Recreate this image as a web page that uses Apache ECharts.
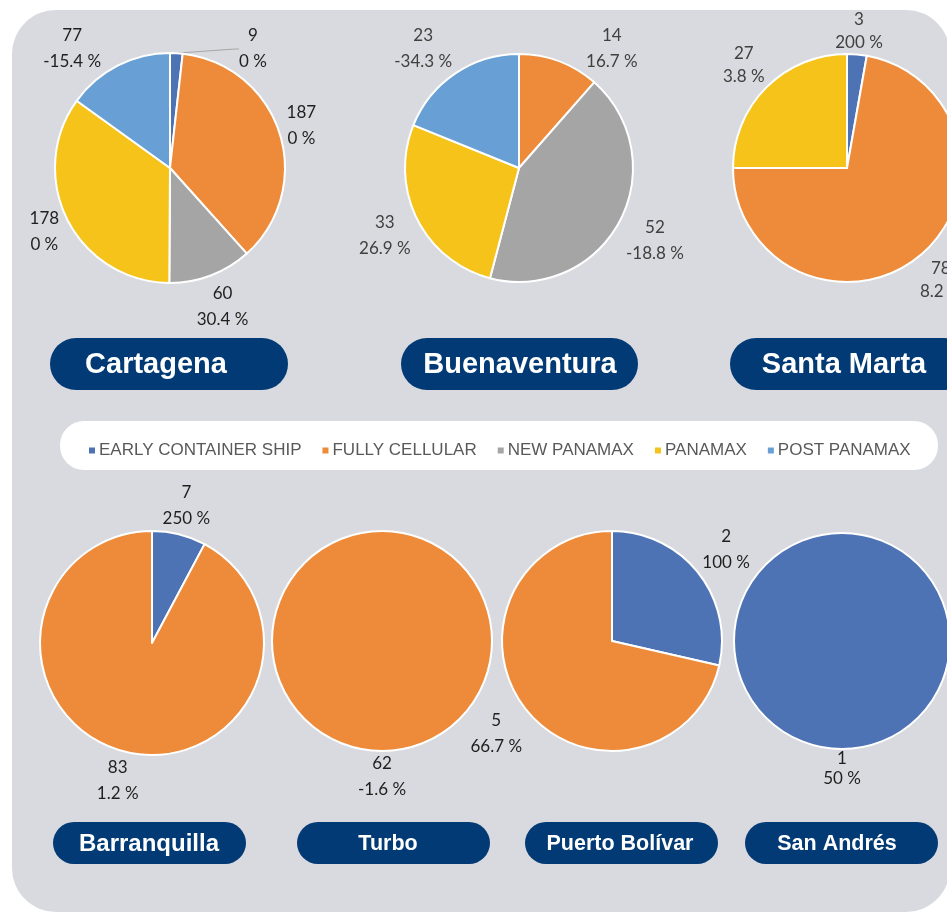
<!DOCTYPE html>
<html>
<head>
<meta charset="utf-8">
<script src="https://cdn.jsdelivr.net/npm/echarts@6/dist/echarts.min.js"></script>
<style>
  html, body { margin: 0; padding: 0; background: #fff; }
  #chart { width: 947px; height: 913px; }
</style>
</head>
<body>
<div id="chart"></div>
<script>
// vessel types (legend order)
const categories = ['EARLY CONTAINER SHIP', 'FULLY CELLULAR', 'NEW PANAMAX', 'PANAMAX', 'POST PANAMAX'];
const colors = ['#4e73b5', '#ed8b3a', '#a6a5a6', '#f6c31b', '#689fd4'];

// calls per port, same order as categories (null = no calls)
const cartagenaValues = [9, 187, 60, 178, 77];
const cartagenaChange = ['0 %', '0 %', '30.4 %', '0 %', '-15.4 %'];
const buenaventuraValues = [null, 14, 52, 33, 23];
const buenaventuraChange = [null, '16.7 %', '-18.8 %', '26.9 %', '-34.3 %'];
const santaMartaValues = [3, 78, null, 27, null];
const santaMartaChange = ['200 %', '8.2 %', null, '3.8 %', null];
const barranquillaValues = [7, 83, null, null, null];
const barranquillaChange = ['250 %', '1.2 %', null, null, null];
const turboValues = [null, 62, null, null, null];
const turboChange = [null, '-1.6 %', null, null, null];
const puertoBolivarValues = [2, 5, null, null, null];
const puertoBolivarChange = ['100 %', '66.7 %', null, null, null];
const sanAndresValues = [1, null, null, null, null];
const sanAndresChange = ['50 %', null, null, null, null];

const ports = [
  { name: 'Cartagena', values: cartagenaValues, change: cartagenaChange },
  { name: 'Buenaventura', values: buenaventuraValues, change: buenaventuraChange },
  { name: 'Santa Marta', values: santaMartaValues, change: santaMartaChange },
  { name: 'Barranquilla', values: barranquillaValues, change: barranquillaChange },
  { name: 'Turbo', values: turboValues, change: turboChange },
  { name: 'Puerto Bolívar', values: puertoBolivarValues, change: puertoBolivarChange },
  { name: 'San Andrés', values: sanAndresValues, change: sanAndresChange }
];

// layout: pie centre / radius, name pill box, pill text centre x and size,
// label colour, label line height, highest allowed label top
const layout = [
  { c: [170, 168], r: 115, pill: [50, 338, 238, 52], tx: 156, fs: 29, lc: '#1f1f1f', lh: 26, top: 26 },
  { c: [519, 168], r: 114, pill: [401, 338, 237, 52], tx: 520, fs: 29, lc: '#404040', lh: 26, top: 26 },
  { c: [847, 168], r: 114, pill: [730, 338, 240, 52], tx: 844, fs: 29, lc: '#404040', lh: 23, top: 6 },
  { c: [152, 643], r: 112, pill: [53, 822, 193, 42], tx: 149, fs: 24, lc: '#1f1f1f', lh: 26, top: 480 },
  { c: [382, 641], r: 110, pill: [297, 822, 193, 42], tx: 388, fs: 21.5, lc: '#1f1f1f', lh: 26, top: 480 },
  { c: [612, 641], r: 110, pill: [525, 822, 193, 42], tx: 620, fs: 21.5, lc: '#1f1f1f', lh: 26, top: 480 },
  { c: [842, 641], r: 108, pill: [745, 822, 193, 42], tx: 837, fs: 21.5, lc: '#1f1f1f', lh: 20, top: 480 }
];
const GAP = 3;

const chart = echarts.init(document.getElementById('chart'));

const seriesData = ports.map(p => {
  const total = p.values.reduce((s, v) => s + (v || 0), 0);
  return p.values
    .map((v, k) => ({
      name: categories[k], value: v, idx: k,
      itemStyle: { color: colors[k] },
      // thin slices get a leader line to their label
      labelLine: { show: v != null && v / total < 0.02 }
    }))
    .filter(d => d.value != null);
});

// place each label just outside its slice, on the slice's mid angle
function placeLabel(params) {
  const i = params.seriesIndex, k = params.dataIndex;
  const L = layout[i], data = seriesData[i];
  const total = data.reduce((s, d) => s + d.value, 0);
  let before = 0;
  for (let j = 0; j < k; j++) before += data[j].value;
  const mid = (before + data[k].value / 2) / total * Math.PI * 2;
  const dx = Math.sin(mid), dy = -Math.cos(mid);
  const hw = params.labelRect.width / 2;
  const hh = params.labelRect.height / 2 - 3; // glyph box, not line box
  const clear = (x, y) => {
    const nx = Math.max(x - hw, Math.min(L.c[0], x + hw));
    const ny = Math.max(y - hh, Math.min(L.c[1], y + hh));
    return Math.hypot(nx - L.c[0], ny - L.c[1]) >= L.r + GAP;
  };
  let t = L.r;
  while (!clear(L.c[0] + dx * t, L.c[1] + dy * t)) t += 1;
  let x = L.c[0] + dx * t, y = L.c[1] + dy * t;
  if (y - hh < L.top) {
    y = L.top + hh;
    const dir = dx >= 0 ? 1 : -1;
    while (!clear(x, y)) x += dir;
  }
  return { x, y, align: 'center', verticalAlign: 'middle' };
}

const series = ports.map((p, i) => ({
  type: 'pie',
  name: p.name,
  center: layout[i].c,
  radius: [0, layout[i].r],
  startAngle: 90,
  clockwise: true,
  avoidLabelOverlap: false,
  itemStyle: { borderColor: '#fff', borderWidth: 2 },
  label: {
    show: true,
    position: 'outside',
    color: layout[i].lc,
    fontFamily: 'Lato',
    fontSize: 17,
    lineHeight: layout[i].lh,
    align: 'center',
    formatter: (d) => d.value + '\n' + p.change[d.data.idx]
  },
  labelLine: { show: false, length: 4, length2: 4, lineStyle: { color: '#a6a6a6', width: 1 } },
  labelLayout: placeLabel,
  emphasis: { disabled: true },
  data: seriesData[i]
}));

const graphic = [
  {
    type: 'rect', z: -10,
    shape: { x: 12, y: 10, width: 938, height: 902, r: 44 },
    style: { fill: '#d9dadf' }
  },
  {
    type: 'rect', z: -5,
    shape: { x: 60, y: 421, width: 878, height: 49, r: 24 },
    style: { fill: '#fff' }
  }
];
ports.forEach((p, i) => {
  const [x, y, w, h] = layout[i].pill;
  graphic.push({
    type: 'rect', z: -5,
    shape: { x, y, width: w, height: h, r: h / 2 },
    style: { fill: '#013a74' }
  });
  graphic.push({
    type: 'text', z: 5,
    x: layout[i].tx, y: y + h / 2 + 1,
    style: {
      text: p.name, fill: '#fff', align: 'center', verticalAlign: 'middle',
      font: 'bold ' + layout[i].fs + 'px "Liberation Sans", Arial, sans-serif'
    }
  });
});

chart.setOption({
  animation: false,
  color: colors,
  legend: {
    data: categories,
    top: 437,
    left: 82,
    itemWidth: 8,
    itemHeight: 8,
    itemGap: 19,
    icon: 'rect',
    selectedMode: false,
    textStyle: {
      color: '#595959',
      fontFamily: '"Liberation Sans Narrow", "Liberation Sans", sans-serif',
      fontSize: 17,
      padding: [0, 0, 0, -2]
    }
  },
  graphic,
  series
});
</script>
</body>
</html>
